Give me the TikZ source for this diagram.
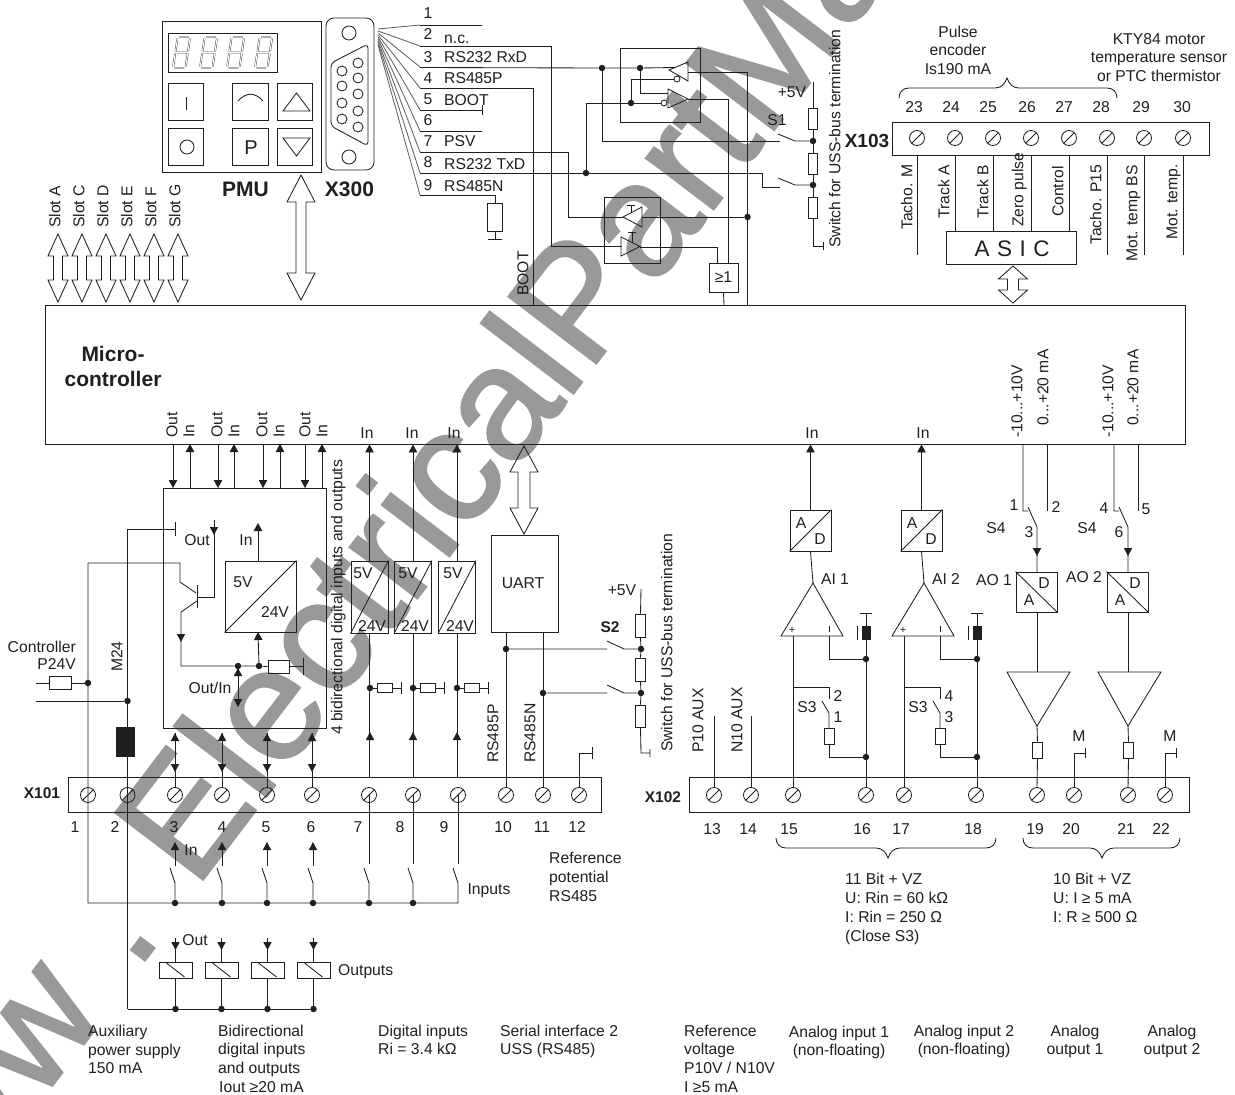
\documentclass[tikz,border=0pt]{standalone}
\usepackage{fontspec}
\setmainfont{Liberation Sans}
\newfontfamily\wmfont[FakeBold=1.5]{Liberation Sans}
\usetikzlibrary{arrows.meta}
\definecolor{wmgray}{gray}{0.6}
\definecolor{ink}{gray}{0.12}
\newcommand\fsz{\fontsize{15.7}{15.7}\selectfont}
\tikzset{
  wire/.style={line width=0.85pt,color=ink},
  arr/.style={wire,-{Triangle[length=8pt,width=8.5pt]}},
  lab/.style={inner sep=0pt,font=\fsz,text=ink,text height=10.8pt,text depth=0pt},
  vlab/.style={lab,rotate=90,anchor=west},
  wlab/.style={lab,anchor=west},
  blab/.style={inner sep=0pt,text=ink,font=\fontsize{15.5}{15.5}\selectfont\bfseries,text height=11pt,text depth=0pt},
  hlab/.style={inner sep=0pt,text=ink,font=\fontsize{21}{21}\selectfont\bfseries,text height=14.5pt,text depth=0pt},
  box/.style={wire,draw,inner sep=0pt,rectangle},
  rbox/.style={box,minimum width=9.5pt,minimum height=21pt},
  hres/.style={box,minimum width=15pt,minimum height=9pt},
  jdot/.style={circle,fill=ink,inner sep=0pt,minimum size=6.5pt},
  screw/.style={circle,wire,draw,inner sep=0pt,minimum size=15pt,path picture={\draw[wire] (path picture bounding box.south west)--(path picture bounding box.north east);}},
  wm/.style={inner sep=0pt,anchor=base west,rotate=52.7,text=wmgray,font=\wmfont\fontsize{160}{160}\selectfont},
  bigarrow/.style={wire,line join=miter},
}
% vertical block arrow: x, ytop, ybottom, head width, head height, shaft width
\newcommand\dblarrow[6]{\draw[bigarrow] (#1,#2) -- ++(#4/2,#5) -- ++(-#4/2+#6/2,0) -- (#1+#6/2,#3-#5) -- (#1+#4/2,#3-#5) -- (#1,#3) -- (#1-#4/2,#3-#5) -- (#1-#6/2,#3-#5) -- (#1-#6/2,#2+#5) -- (#1-#4/2,#2+#5) -- cycle;}
\newcommand\hup[2]{\fill[ink] (#1,#2) -- (#1-4.2,#2+8) -- (#1+4.2,#2+8) -- cycle;}
\newcommand\hdn[2]{\fill[ink] (#1,#2) -- (#1-4.2,#2-8) -- (#1+4.2,#2-8) -- cycle;}
\begin{document}
\begin{tikzpicture}[x=1pt,y=-1pt]
\useasboundingbox (0,0) rectangle (1235,1095);
% --- watermark
\begin{scope}
\clip (0,0) rectangle (1235,1095);
\node[wm] (wmw) at (-102,1288) {www};
\node[wm] (wmd) at (136,972) {.};
\node[wm] (wme) at (195,890) {ElectricalPartManuals.com};
\end{scope}
% --- PMU
\node[box,minimum width=159pt,minimum height=151pt] (pmu) at (241.5,96.5) {};
\node[box,minimum width=109pt,minimum height=39pt] (disp) at (222.5,52.5) {};
\foreach \xd in {173,200,227,255}{
 \begin{scope}[shift={(\xd,68)},xslant=0.15]
  \draw[color=ink,line width=0.35pt,double=white,double distance=1.1pt,line cap=butt]
   (1.5,0)--(11,0) (1.5,-15.5)--(11,-15.5) (1.5,-31)--(11,-31)
   (0,-1.5)--(0,-14.5) (0,-16.5)--(0,-29.5) (12.5,-1.5)--(12.5,-14.5) (12.5,-16.5)--(12.5,-29.5);
 \end{scope}}
\foreach \nm/\cx/\cy in {kA/186/102,kB/250.5/102,kC/295/102,kD/186/147,kE/250.5/147,kF/295/147}{
  \node[box,minimum width=35.5pt,minimum height=37.5pt] (\nm) at (\cx,\cy) {};}
\draw[wire] (186,97)--(186,110);
\draw[wire] (238,101) .. controls (246,92) and (255,92) .. (263,101);
\draw[wire] (283,111)--(310,111)--(296.5,93)--cycle;
\draw[wire] (283,138)--(310,138)--(296.5,156)--cycle;
\draw[wire] (187,147) circle (7);
\node[lab,font=\fontsize{20}{20}\selectfont,text height=14pt] (kP) at (251,147) {P};
\node[hlab] (lpmu) at (245.5,189) {PMU};
\node[hlab] (lx300) at (349.5,189) {X300};
% --- X300 connector
\node[box,rounded corners=8pt,minimum width=48pt,minimum height=152pt] (x300) at (350,94) {};
\draw[wire] (349,33) circle (7) (349,157) circle (7);
\draw[wire,rounded corners=4pt] (331,63)--(368,44)--(368,146)--(331,126)--cycle;
\foreach \py in {71,86,103,119}{\draw[wire] (342,\py) circle (5);}
\foreach \py in {63,78,94,111,127}{\draw[wire] (358,\py) circle (5);}
% pin rows
\foreach \ys/\y in {29/25,31/46,33/67,35/88,37/110,39/131,41/152,43/173,45/195}{
  \draw[wire,color=ink!70] (378,\ys)--(420,\y);}
\foreach \n/\y in {1/13,2/34,3/57,4/78,5/99,6/120,7/141,8/162,9/185}{
  \node[lab] (pn\n) at (428,\y) {\n};}
\node[wlab] (pt2) at (444,38) {n.c.};
\node[wlab] (pt3) at (444,57) {RS232 RxD};
\node[wlab] (pt4) at (444,78) {RS485P};
\node[wlab] (pt5) at (444,100) {BOOT};
\node[wlab] (pt7) at (444,141) {PSV};
\node[wlab] (pt8) at (444,164) {RS232 TxD};
\node[wlab] (pt9) at (444,186) {RS485N};
% main controller
\node[box,minimum width=1140pt,minimum height=139pt] (mc) at (615,374.5) {};
\node[inner sep=0pt,text=ink,font=\fontsize{21}{21}\selectfont\bfseries,text height=15pt,text depth=0pt] (lmc1) at (113,354) {Micro-};
\node[inner sep=0pt,text=ink,font=\fontsize{21}{21}\selectfont\bfseries,text height=15pt,text depth=0pt] (lmc2) at (113,379) {controller};
% slots
\foreach \n/\tx/\ax in {A/55/58,C/79/82,D/103/106,E/127/130,F/151/154,G/175/178}{
  \dblarrow{\ax}{234}{302}{20}{22}{9}
  \node[vlab] (slot\n) at (\tx,228) {Slot \n};}
\dblarrow{301}{175}{300}{28}{27}{10}
% upper driver box
\node[box,minimum width=80pt,minimum height=74pt] (ubox) at (660,85) {};
\draw[wire] (669,70)--(688,62)--(688,81)--cycle;
\draw[wire] (677,79) circle (3);
\draw[wire] (688,99)--(668,89)--(668,108)--cycle;
\draw[wire] (664,103) circle (3);
\node[jdot] (d1) at (602,68) {};
\node[jdot] (d2) at (640,68) {};
\node[jdot] (d3) at (631,103) {};
\node[jdot] (d4) at (586,173) {};
\node[jdot] (d5) at (747.5,217) {};
\draw[wire] (420,25)--(482,25);
\draw[wire] (420,46)--(551,46)--(551,246)--(622,246);
\draw[wire] (420,67.5)--(d1)--(d2)--(675,67.5);
\draw[wire] (420,88)--(533,88)--(533,305);
\draw[wire] (420,110)--(482,110) (482,105)--(482,115);
\draw[wire] (420,131)--(482,131);
\draw[wire] (420,152)--(568,152)--(568,217)--(623,217);
\draw[wire] (420,173)--(d4)--(762,173)--(762,187)--(780,187);
\node[rbox,minimum width=15.5pt,minimum height=28pt] (r9) at (495,217) {};
\draw[wire] (420,195)--(495,195)--(r9.north);
\draw[wire] (r9.south)--(495,239) (488,239)--(502,239);
\draw[wire] (d1)--(602,141)--(780,141);
\draw[wire] (d2)--(640,93)--(668,93);
\draw[wire] (631,79)--(673.5,79) (631,79)--(d3);
\draw[wire] (d4)--(586,103)--(d3)--(661,103);
\draw[wire] (688,72)--(747.5,72)--(747.5,305);
\draw[wire] (688,99)--(728,99)--(728,263);
% S1 chain
\node[jdot] (s1a) at (813,141) {};
\node[jdot] (s1b) at (813,185) {};
\node[rbox] (s1r1) at (813,118.5) {};
\node[rbox] (s1r2) at (813,163.5) {};
\node[rbox] (s1r3) at (813,208) {};
\draw[wire] (813,82)--(s1r1.north) (s1r1.south)--(s1a)--(s1r2.north) (s1r2.south)--(s1b)--(s1r3.north);
\draw[wire] (s1r3.south)--(813,246)--(823,246) (823,242)--(823,250);
\draw[wire] (778,134)--(795,141)--(s1a);
\draw[wire] (778,178)--(795,185)--(s1b);
\node[lab] (l5va) at (792,92) {+5V};
\node[lab] (ls1) at (777,120) {S1};
\node[vlab] (lusa) at (835,248) {Switch for USS-bus termination};
\node[blab,font=\fontsize{19}{19}\selectfont\bfseries,text height=13.5pt] (lx103) at (867,141) {X103};
% lower driver box
\node[box,minimum width=56pt,minimum height=66pt] (lbox) at (632,230) {};
\draw[wire] (623,217)--(642,207)--(642,227)--cycle;
\draw[wire] (621,237)--(640,246.5)--(621,256)--cycle;
\draw[wire] (631,205)--(631,212) (627,205)--(635,205);
\draw[wire] (632,232)--(632,241.5) (628,232)--(636,232);
\draw[wire] (642,217)--(d5);
\node[box,minimum width=29pt,minimum height=29pt,font=\fsz,text=ink] (ge1) at (723.5,277.5) {≥1};
\draw[wire] (640,247)--(717,247)--(717,263);
\draw[wire] (ge1.south)--(724,305);
\node[vlab] (lboot) at (523,296) {BOOT};
% X103
\node[box,minimum width=317pt,minimum height=33pt] (x103) at (1050.5,138.5) {};
\foreach \n/\sx/\tx in {23/917/914,24/955/951,25/993/988,26/1031/1027,27/1069/1064,28/1107/1101,29/1144/1141,30/1183/1182}{
  \node[screw] (s\n) at (\sx,138) {};
  \node[lab] (n\n) at (\tx,107) {\n};}
\node[box,minimum width=130pt,minimum height=33pt] (asic) at (1011,247.5) {};
\node[lab,font=\fontsize{22.5}{22.5}\selectfont,text height=16pt] (lasic) at (1012,248) {A\,\,S\,\,I\,\,C};
\foreach \n/\sx in {23/917,28/1107,29/1144,30/1183}{\draw[wire] (\sx,155)--(\sx,255);}
\foreach \n/\sx in {24/955,25/993,26/1031,27/1069}{\draw[wire] (\sx,155)--(\sx,231);}
\node[vlab] (lt1) at (907,230) {Tacho. M};
\node[vlab] (lt2) at (944,219) {Track A};
\node[vlab] (lt3) at (983,219) {Track B};
\node[vlab] (lt4) at (1018,227) {Zero pulse};
\node[vlab] (lt5) at (1058,217) {Control};
\node[vlab] (lt6) at (1096,245) {Tacho. P15};
\node[vlab] (lt7) at (1132,262) {Mot. temp BS};
\node[vlab] (lt8) at (1172,240) {Mot. temp.};
\dblarrow{1013}{266}{303}{29}{13}{11}
\draw[wire] (899,98) .. controls (899,92) and (903,88) .. (909,88) -- (995,88) .. controls (1001,88) and (1005,84) .. (1007,78) .. controls (1009,84) and (1013,88) .. (1019,88) -- (1107,88) .. controls (1113,88) and (1117,92) .. (1117,98);
\node[lab] (lp1) at (958,32) {Pulse};
\node[lab] (lp2) at (958,50) {encoder};
\node[lab] (lp3) at (958,69) {Is190 mA};
\node[lab] (lk1) at (1159,39) {KTY84 motor};
\node[lab] (lk2) at (1159,57) {temperature sensor};
\node[lab] (lk3) at (1159,76) {or PTC thermistor};
\node[vlab] (lr1) at (1017,438) {-10...+10V};
\node[vlab] (lr2) at (1043,426) {0...+20 mA};
\node[vlab] (lr3) at (1108,438) {-10...+10V};
\node[vlab] (lr4) at (1133,426) {0...+20 mA};
% --- digital I/O block
\foreach \i/\x in {1/172,2/217,3/262,4/305}{\node[vlab] (lo\i) at (\x,438) {Out};}
\foreach \i/\x in {1/189,2/234,3/279,4/322}{\node[vlab] (li\i) at (\x,438) {In};}
\node[box,minimum width=163pt,minimum height=240pt] (dio) at (244.5,608) {};
\foreach \x in {173,218,263,305}{\draw[arr] (\x,444)--(\x,488);}
\foreach \x in {190,234,280,322}{\draw[arr] (\x,488)--(\x,444);}
\node[vlab] (l4bi) at (337,735) {4 bidirectional digital inputs and outputs};
\node[box,minimum width=71pt,minimum height=71pt] (conv) at (260.5,596.5) {};
\draw[wire] (conv.south west)--(conv.north east);
\node[lab] (l5v0) at (243,582) {5V};
\node[lab] (l24v0) at (275,612) {24V};
\coordinate (cvtop) at (258,561);
\coordinate (cvbot) at (258,632);
\draw[arr] (cvtop)--(258,523);
\node[lab] (lin0) at (246,540) {In};
\node[lab] (lout0) at (197,540) {Out};
\node[lab] (loi) at (210,688) {Out/In};
\node[jdot] (j1) at (238,666) {};
\node[jdot] (j2) at (259,666) {};
\node[jdot] (j3) at (88,683) {};
\node[jdot] (j4) at (127.5,701) {};
\node[hres,minimum width=21pt,minimum height=13pt] (r0) at (278.5,666.5) {};
\draw[wire] (181,612)--(181,666)--(j1)--(j2)--(r0.west);
\draw[wire] (r0.east)--(303,666.5) (303,658)--(303,675);
\hdn{181}{642}
\draw[arr] (j2)--(cvbot);
\draw[wire] (88,563)--(180,563)--(180,582)--(196,593);
\draw[wire] (197,585)--(197,608);
\draw[wire] (197,597)--(214,597)--(214,520);
\hdn{214}{535}
\draw[wire] (197,601)--(181,612);
\draw[wire] (238,666)--(238,700);
\hup{238}{668}
\hdn{238}{707}
\draw[wire] (175,522)--(175,536) (175,529)--(127.5,529)--(127.5,1009);
\draw[wire] (j4)--(36,701);
\node[hres,minimum width=22pt,minimum height=13pt] (r24) at (60,683) {};
\draw[wire] (36,683)--(r24.west) (r24.east)--(j3);
\fill[ink] (116,727) rectangle (135,757);
\node[lab,anchor=east] (lctl) at (76,647) {Controller};
\node[lab,anchor=east] (lp24) at (76,664) {P24V};
\node[vlab] (lm24) at (117,672) {M24};
% --- X101
\node[box,minimum width=533pt,minimum height=35pt] (x101) at (334.5,794.5) {};
\node[blab] (lx101) at (42,793) {X101};
\foreach \n/\sx/\tx in {1/88/75,2/127.5/115,3/175/174,4/222/222,5/267/266,6/312/311,7/369/358,8/413/400,9/458/444,10/506/503,11/543/542,12/579/577}{
  \node[screw] (t\n) at (\sx,795) {};
  \node[lab] (tn\n) at (\tx,827) {\n};}
\foreach \x in {175,222,267,312}{
  \draw[wire] (\x,733)--(\x,788);
  \hup{\x}{733}
  \hdn{\x}{772}
}
\draw[wire] (88,563)--(88,903)--(458,903)--(458,883)--(453,868);
\foreach \i/\x in {a/175,b/222,c/267,d/313,e/369,f/413}{
  \node[jdot] (b\i) at (\x,903) {};
  \draw[wire] (b\i)--(\x,883)--(\x-5,868);}
\foreach \x in {175,222,267,313}{
  \draw[wire] (\x,866)--(\x,845);
  \hup{\x}{842}
}
\foreach \x in {369,413,458}{\draw[wire] (\x,795)--(\x,864);}
\node[lab] (lin1) at (191,850) {In};
\node[lab] (linp) at (489,889) {Inputs};
% relays
\foreach \i/\x in {a/175.5,b/221.5,c/267.5,d/313.5}{
  \node[box,minimum width=33pt,minimum height=16pt] (rel\i) at (\x,970) {};
  \draw[wire] (\x-9,963)--(\x+9,977);
  \node[jdot] (c\i) at (\x,1009) {};
  \draw[wire] (rel\i.south)--(c\i);
  \draw[wire] (\x,938)--(rel\i.north);
  \hdn{\x}{950}
}
\draw[wire] (127.5,1009)--(cd);
\node[lab] (lout1) at (195,940) {Out};
\node[wlab] (loutp) at (338,970) {Outputs};
% --- digital inputs
\foreach \i/\x/\bx/\fx/\tf/\tt/\lx in {a/370/369.5/370/363/372/367,b/413/413/413/408/415/412,c/457/457/457/453/460/454}{
  \node[box,minimum width=37pt,minimum height=72pt] (dc\i) at (\bx,597) {};
  \draw[wire] (dc\i.south west)--(dc\i.north east);
  \node[lab] (dfa\i) at (\tf,573) {5V};
  \node[lab] (dfb\i) at (\tt,626) {24V};
  \draw[arr] (dc\i.north)--(dc\i.north |- mc.south);
  \node[lab] (dl\i) at (\lx,433) {In};
  \node[jdot] (dj\i) at (\x,688) {};
  \draw[wire] (dc\i.south)--(\bx,777);
  \hup{\x}{732}
  \node[hres] (dr\i) at (\x+15,688) {};
  \draw[wire] (dj\i)--(dr\i.west) (dr\i.east)--(\x+31,688) (\x+31,682)--(\x+31,694);
}
\node[box,minimum width=67pt,minimum height=97pt] (uart) at (524.5,583.5) {};
\node[lab] (luart) at (523,583) {UART};
\dblarrow{524}{446}{534}{28}{26}{12}
\node[jdot] (u1) at (506,649) {};
\node[jdot] (u2) at (543,693) {};
\draw[wire] (506,632)--(u1)--(t10);
\draw[wire] (543,632)--(u2)--(t11);
\node[vlab] (l485p) at (493,763) {RS485P};
\node[vlab] (l485n) at (530,763) {RS485N};
\draw[wire] (t12)--(579,753)--(592,753) (592,747)--(592,759);
\node[jdot] (s2a) at (641,649) {};
\node[jdot] (s2b) at (641,693) {};
\node[rbox,minimum height=23pt] (s2r1) at (640.5,625.5) {};
\node[rbox,minimum height=23pt] (s2r2) at (640.5,669.5) {};
\node[rbox,minimum height=22pt] (s2r3) at (640.5,716) {};
\draw[wire] (641,589)--(s2r1.north) (s2r1.south)--(s2a)--(s2r2.north) (s2r2.south)--(s2b)--(s2r3.north);
\draw[wire] (s2r3.south)--(641,753)--(650,753) (650,749)--(650,757);
\draw[wire] (u1)--(607,649) (607,641)--(624,649)--(s2a);
\draw[wire] (u2)--(607,693) (607,685)--(624,693)--(s2b);
\node[lab] (l5vb) at (622,590) {+5V};
\node[blab] (ls2) at (610,627) {S2};
\node[vlab] (lusb) at (667,752) {Switch for USS-bus termination};
% --- X102
\node[box,minimum width=500pt,minimum height=35pt] (x102) at (939,794.5) {};
\node[blab] (lx102) at (663,797) {X102};
\foreach \n/\sx/\tx in {13/714/712,14/751/748,15/793/789,16/866/862,17/904/901,18/976/973,19/1037/1035,20/1074/1071,21/1128/1126,22/1165/1161}{
  \node[screw] (t\n) at (\sx,795) {};
  \node[lab] (tn\n) at (\tx,829) {\n};}
\draw[wire] (t13)--(714,716);
\draw[wire] (t14)--(751,716);
\node[vlab] (lp10) at (698,753) {P10 AUX};
\node[vlab] (ln10) at (737,753) {N10 AUX};
% analog inputs
\foreach \i/\ofs/\na/\nb/\nc in {1/0/2/1/16,2/111/4/3/18}{
 \begin{scope}[shift={(\ofs,0)}]
  \node[box,minimum width=41pt,minimum height=41pt] (ad\i) at (810.5,530.5) {};
  \draw[wire] (ad\i.south west)--(ad\i.north east);
  \node[lab] (ada\i) at (801,523) {A};
  \node[lab] (add\i) at (820,539) {D};
  \draw[arr] (ad\i.north)--(ad\i.north |- mc.south);
  \draw[wire] (ad\i.south)--(813,583);
  \draw[wire] (813,583)--(781,636)--(843,636)--cycle;
  \node[lab] (aiplus\i) at (792,628.5) {\fontsize{11}{11}\selectfont +};
  \draw[wire] (829,626)--(829,632);
  \node[lab] (ail\i) at (835,579) {AI \i};
  \node[jdot] (aj\i) at (866,659) {};
  \node[jdot] (ak\i) at (866,757) {};
  \draw[wire] (829,636)--(829,659)--(aj\i);
  \draw[wire] (793,636)--(793,788);
  \draw[wire] (793,687)--(829,687)--(829,699);
  \draw[wire] (822,701)--(829,713)--(829,728);
  \node[box,minimum width=10pt,minimum height=16pt] (ar\i) at (829,736) {};
  \draw[wire] (ar\i.south)--(829,757)--(ak\i);
  \draw[wire] (866,613)--(866,788) (860,613)--(872,613);
  \fill[ink] (862,626) rectangle (871,640);
  \draw[wire] (857,626)--(857,640);
  \node[lab] (as3\i) at (807,707) {S3};
  \node[lab] (an\i) at (838,696) {\na};
  \node[lab] (am\i) at (838,717) {\nb};
  \node[lab] (ain\i) at (812,433) {In};
 \end{scope}}
% analog outputs
\foreach \i/\ofs/\lm/\ln/\lp/\xs in {1/0/1/2/3/0,2/91/4/5/6/0}{
 \begin{scope}[shift={(\ofs,0)}]
  \draw[wire] (1023,444)--(1023,511)--(1028,511) (1028,507)--(1037,527)--(1037,572);
  \hdn{1037}{556}
  \draw[wire] (1047,444)--(1047,511);
  \node[box,minimum width=41pt,minimum height=40pt] (da\i) at (1036.5,592) {};
  \draw[wire] (da\i.north west)--(da\i.south east);
  \node[lab] (dad\i) at (1044,583) {D};
  \node[lab] (daa\i) at (1029,600) {A};
  \draw[wire] (1007,672)--(1070,672)--(1037,726)--cycle;
  \draw[wire] (1037,612)--(1037,672);
  \node[box,minimum width=9.5pt,minimum height=16pt] (dr2\i) at (1037.5,750) {};
  \draw[wire] (1037,726)--(dr2\i.north) (dr2\i.south)--(1037,788);
  \draw[wire] (1074,788)--(1074,753)--(1085,753) (1085,748)--(1085,758);
  \node[lab] (am2\i) at (1079,736) {M};
  \node[lab] (aos\i) at (996,528) {S4};
 \end{scope}}
\node[lab] (s41) at (1014,505) {1};
\node[lab] (s42) at (1056,507) {2};
\node[lab] (s43) at (1029,532) {3};
\node[lab] (s44) at (1104,508) {4};
\node[lab] (s45) at (1146,509) {5};
\node[lab] (s46) at (1119,532) {6};
\node[lab] (lao1) at (994,580) {AO 1};
\node[lab] (lao2) at (1084,577) {AO 2};
% braces
\draw[wire] (776,838) .. controls (776,844) and (780,848) .. (786,848) -- (876,848) .. controls (882,848) and (886,852) .. (888,858) .. controls (890,852) and (894,848) .. (900,848) -- (986,848) .. controls (992,848) and (996,844) .. (996,838);
\draw[wire] (1023,838) .. controls (1023,844) and (1027,848) .. (1033,848) -- (1090,848) .. controls (1096,848) and (1100,852) .. (1102,858) .. controls (1104,852) and (1108,848) .. (1114,848) -- (1170,848) .. controls (1176,848) and (1180,844) .. (1180,838);
% text blocks
\node[wlab] (b1) at (845,879) {11 Bit + VZ};
\node[wlab] (b2) at (845,898) {U: Rin = 60 kΩ};
\node[wlab] (b3) at (845,917) {I: Rin = 250 Ω};
\node[wlab] (b4) at (845,936) {(Close S3)};
\node[wlab] (c1) at (1053,879) {10 Bit + VZ};
\node[wlab] (c2) at (1053,898) {U: I ≥ 5 mA};
\node[wlab] (c3) at (1053,917) {I: R ≥ 500 Ω};
\node[wlab] (e1) at (549,858) {Reference};
\node[wlab] (e2) at (549,877) {potential};
\node[wlab] (e3) at (549,896) {RS485};
\node[wlab] (f1) at (88,1031) {Auxiliary};
\node[wlab] (f2) at (88,1050) {power supply};
\node[wlab] (f3) at (88,1068) {150 mA};
\node[wlab] (g1) at (218,1031) {Bidirectional};
\node[wlab] (g2) at (218,1049) {digital inputs};
\node[wlab] (g3) at (218,1068) {and outputs};
\node[wlab] (g4) at (219,1087) {Iout ≥20 mA};
\node[wlab] (h1) at (378,1031) {Digital inputs};
\node[wlab] (h2) at (378,1049) {Ri = 3.4 kΩ};
\node[wlab] (i1) at (500,1031) {Serial interface 2};
\node[wlab] (i2) at (500,1049) {USS (RS485)};
\node[wlab] (j1t) at (684,1031) {Reference};
\node[wlab] (j2t) at (684,1049) {voltage};
\node[wlab] (j3t) at (684,1068) {P10V / N10V};
\node[wlab] (j4t) at (684,1087) {I ≥5 mA};
\node[lab] (k1) at (839,1032) {Analog input 1};
\node[lab] (k2) at (839,1050) {(non-floating)};
\node[lab] (m1) at (964,1031) {Analog input 2};
\node[lab] (m2) at (964,1049) {(non-floating)};
\node[lab] (o1) at (1075,1031) {Analog};
\node[lab] (o2) at (1075,1049) {output 1};
\node[lab] (p1) at (1172,1031) {Analog};
\node[lab] (p2) at (1172,1049) {output 2};
\end{tikzpicture}
\end{document}
